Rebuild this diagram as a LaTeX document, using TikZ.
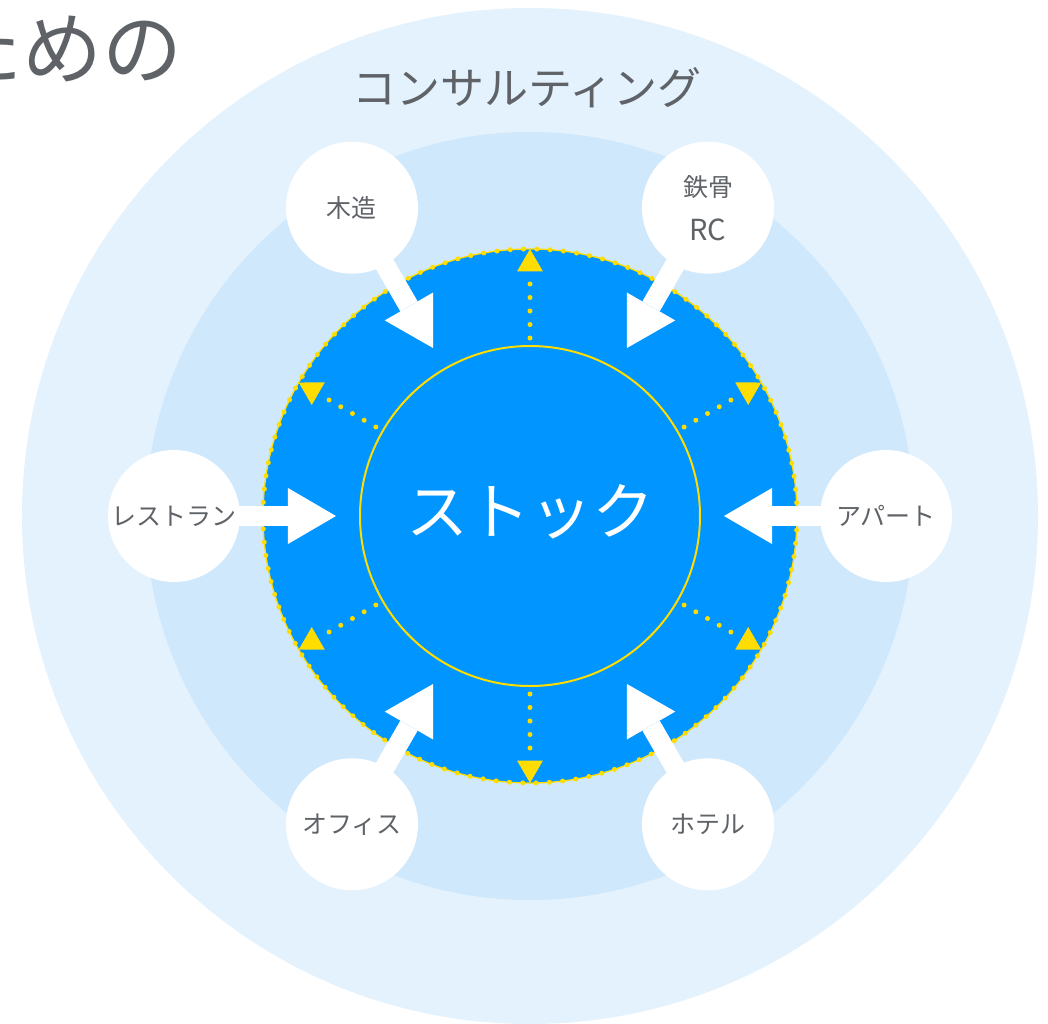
\documentclass[tikz,border=0pt]{standalone}
\usepackage{fontspec}
\setmainfont{Noto Sans CJK JP}
\usetikzlibrary{arrows.meta}
\definecolor{outerblue}{HTML}{E3F2FD}
\definecolor{midblue}{HTML}{CFE8FC}
\definecolor{mainblue}{HTML}{0095FF}
\definecolor{ringyellow}{HTML}{FFDD00}
\definecolor{textgrey}{HTML}{5F6368}
\begin{document}
\begin{tikzpicture}[x=1pt,y=1pt,
  bubble/.style={circle, fill=white, minimum size=132pt, inner sep=0pt, text=textgrey, font=\fontsize{25}{44}\selectfont, align=center},
  bigarrow/.style={white, line width=20pt, -{Triangle[length=48pt,width=56pt,line width=0pt]}},
  dotarrow/.style={ringyellow, line width=5pt, line cap=round, dash pattern=on 0pt off 13.5pt, -{Triangle[length=22.5pt,width=26pt,line width=0pt]}}]
\useasboundingbox (-530,-507) rectangle (518,516);
\fill[white] (-530,-507) rectangle (518,516);
% rings
\fill[outerblue] (0,0) circle[radius=508];
\fill[midblue] (0,0) circle[radius=384];
\fill[mainblue] (0,0) circle[radius=267];
\draw[ringyellow, line width=1.3pt] (0,0) circle[radius=267];
\draw[ringyellow, line width=5pt, line cap=round, dash pattern=on 0pt off 13.31pt] (0,0) circle[radius=267];
% title texts
\node[anchor=east, inner sep=0pt, text=textgrey, font=\fontsize{80}{80}\selectfont] (title) at (-347,468) {ための};
\node[inner sep=0pt, text=textgrey, font=\fontsize{44}{44}\selectfont] (consult) at (-3,428) {コンサルティング};
% centre
\node[circle, draw=ringyellow, line width=2pt, minimum size=340pt, inner sep=0pt] (stockring) at (0,0) {};
\node[inner sep=0pt, text=white, font=\fontsize{62}{62}\selectfont] (stock) at (0,4) {ストック};
% dotted arrows
\foreach \a in {30,90,150,210,270,330}{
  \coordinate (ds\a) at (\a:178);
  \coordinate (de\a) at (\a:267);
  \draw[dotarrow] (ds\a) -- (de\a);
}
% big arrows
\coordinate (pmu) at (120:356); \coordinate (tmu) at (120:194);
\coordinate (pte) at (60:356);  \coordinate (tte) at (60:194);
\coordinate (pre) at (180:356); \coordinate (tre) at (180:194);
\coordinate (pap) at (0:356);   \coordinate (tap) at (0:194);
\coordinate (pof) at (240:356); \coordinate (tof) at (240:194);
\coordinate (pho) at (300:356); \coordinate (tho) at (300:194);
\draw[bigarrow] (pmu) -- (tmu);
\draw[bigarrow] (pte) -- (tte);
\draw[bigarrow] (pre) -- (tre);
\draw[bigarrow] (pap) -- (tap);
\draw[bigarrow] (pof) -- (tof);
\draw[bigarrow] (pho) -- (tho);
% bubbles
\node[bubble] (mu) at (pmu) {木造};
\node[bubble] (te) at (pte) {鉄骨\\{\fontsize{29}{44}\selectfont RC}};
\node[bubble] (re) at (pre) {レストラン};
\node[bubble] (ap) at (pap) {アパート};
\node[bubble] (of) at (pof) {オフィス};
\node[bubble] (ho) at (pho) {ホテル};
\end{tikzpicture}
\end{document}
